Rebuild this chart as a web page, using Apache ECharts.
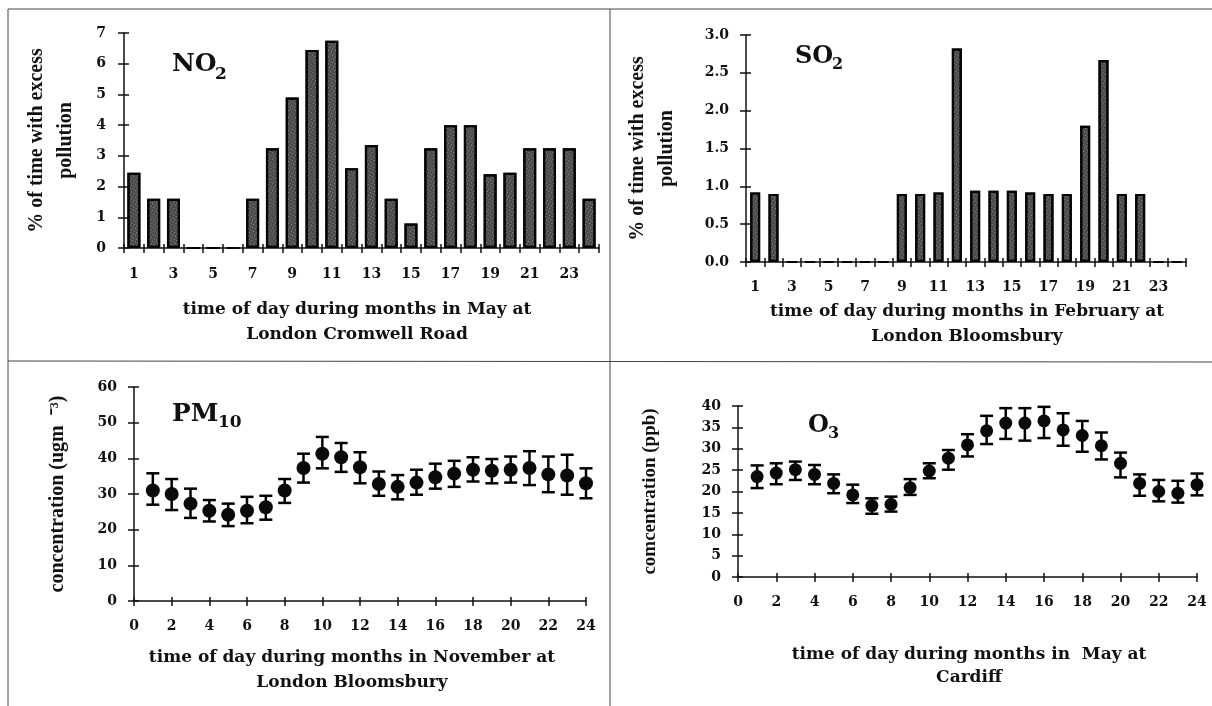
<!DOCTYPE html>
<html>
<head>
<meta charset="utf-8">
<script src="https://cdn.jsdelivr.net/npm/echarts@6/dist/echarts.min.js"></script>
<style>
html,body{margin:0;padding:0;background:#fff;}
#chart{width:1212px;height:706px;}
</style>
</head>
<body>
<div id="chart"></div>
<script>
// ---------- data ----------
const hourLabels = ['1','2','3','4','5','6','7','8','9','10','11','12','13','14','15','16','17','18','19','20','21','22','23','24'];
const hours = [1,2,3,4,5,6,7,8,9,10,11,12,13,14,15,16,17,18,19,20,21,22,23,24];

const no2Values = [2.45,1.6,1.6,0,0,0,1.6,3.25,4.9,6.45,6.75,2.6,3.35,1.6,0.8,3.25,4.0,4.0,2.4,2.45,3.25,3.25,3.25,1.6];
const so2Values = [0.92,0.9,0,0,0,0,0,0,0.9,0.9,0.92,2.82,0.94,0.94,0.94,0.92,0.9,0.9,1.8,2.67,0.9,0.9,0,0];

const pm10Mean = [31.0,30.0,27.3,25.3,24.2,25.3,26.3,31.0,37.3,41.3,40.3,37.5,32.8,32.0,33.2,34.7,35.7,36.8,36.5,36.8,37.3,35.5,35.2,33.0];
const pm10Low  = [27.0,25.5,23.3,22.3,21.0,21.8,22.8,27.5,33.2,37.2,36.2,33.0,29.5,28.5,29.8,31.5,32.0,33.5,33.0,33.2,32.5,30.5,29.8,28.8];
const pm10High = [35.8,34.2,31.5,28.3,27.3,29.2,29.5,34.2,41.3,46.0,44.3,41.7,36.3,35.3,36.8,38.5,39.3,40.3,39.8,40.5,42.0,40.5,41.0,37.2];

const o3Mean = [23.5,24.3,25.1,24.0,21.9,19.2,16.7,17.0,20.9,24.8,27.8,30.9,34.2,36.0,36.0,36.5,34.4,33.1,30.7,26.6,21.9,20.0,19.6,21.6];
const o3Low  = [20.8,21.7,22.7,21.7,19.6,17.3,14.8,15.3,19.2,23.1,25.1,28.2,31.1,32.3,31.9,32.5,30.7,29.3,27.5,23.3,19.0,17.7,17.4,19.1];
const o3High = [26.1,26.6,27.0,26.2,24.0,21.6,18.4,18.8,22.9,26.6,29.7,33.4,37.7,39.5,39.5,39.8,38.3,36.5,33.8,29.1,24.0,22.7,22.5,24.2];

const panelTitles = [
  ['time of day during months in May at', 'London Cromwell Road'],
  ['time of day during months in February at', 'London Bloomsbury'],
  ['time of day during months in November at', 'London Bloomsbury'],
  ['time of day during months in  May at', 'Cardiff']
];
const yNames = ['% of time with excess\npollution', '% of time with excess\npollution', 'concentration (ugm  \u207B\u00B3)', 'comcentration (ppb)'];

// ---------- styles ----------
const INK = '#111';
const tickFont = {fontFamily:'DejaVu Serif', fontWeight:'bold', fontSize:14, color:INK};
const nameFont = {fontFamily:'Liberation Serif', fontWeight:'bold', fontSize:20, lineHeight:29, color:INK};

function mainX(grid, cfg){
  return Object.assign({
    gridIndex:grid, position:'bottom',
    axisLine:{show:true, onZero:false, lineStyle:{color:INK, width:1.5}},
    axisTick:{show:true, inside:false, length:5, lineStyle:{color:INK, width:1.5}},
    axisLabel:Object.assign({margin:18}, tickFont),
    splitLine:{show:false}
  }, cfg);
}
function dupX(grid, cfg){
  return Object.assign({
    gridIndex:grid, position:'bottom',
    axisLine:{show:false, onZero:false},
    axisTick:{show:true, inside:true, length:4, lineStyle:{color:INK, width:1.5}},
    axisLabel:{show:false},
    splitLine:{show:false}
  }, cfg);
}
function mainY(grid, cfg){
  return Object.assign({
    gridIndex:grid, position:'left', type:'value',
    axisLine:{show:true, onZero:false, lineStyle:{color:INK, width:1.5}},
    axisTick:{show:true, inside:false, length:6, lineStyle:{color:INK, width:1.5}},
    axisLabel:Object.assign({margin:18}, tickFont),
    splitLine:{show:false},
    nameLocation:'middle', nameRotate:90, nameTextStyle:nameFont
  }, cfg);
}
function dupY(grid, cfg){
  return Object.assign({
    gridIndex:grid, position:'left', type:'value',
    axisLine:{show:false, onZero:false},
    axisTick:{show:true, inside:true, length:5, lineStyle:{color:INK, width:1.5}},
    axisLabel:{show:false},
    splitLine:{show:false}
  }, cfg);
}

const catTick = {show:true, inside:false, length:5, interval:0, alignWithLabel:false, lineStyle:{color:INK, width:1.5}};
const catTickIn = {show:true, inside:true, length:4, interval:0, alignWithLabel:false, lineStyle:{color:INK, width:1.5}};

const barStyle = {
  color:'#4a4a4a', borderColor:'#050505', borderWidth:2.2,
  decal:{symbol:'rect', symbolSize:1, color:'rgba(205,205,205,0.55)', dashArrayX:[1,2], dashArrayY:[1,2], rotation:0.5}
};

function errRender(params, api){
  const x = api.value(0), lo = api.value(1), hi = api.value(2);
  const p1 = api.coord([x, lo]), p2 = api.coord([x, hi]);
  const w = 6.5;
  const st = {stroke:'#000', lineWidth:2.5};
  return {type:'group', children:[
    {type:'line', shape:{x1:p1[0], y1:p1[1], x2:p2[0], y2:p2[1]}, style:st},
    {type:'line', shape:{x1:p1[0]-w, y1:p1[1], x2:p1[0]+w, y2:p1[1]}, style:st},
    {type:'line', shape:{x1:p2[0]-w, y1:p2[1], x2:p2[0]+w, y2:p2[1]}, style:st}
  ]};
}

const pm10Err = hours.map((h,i)=>[h, pm10Low[i], pm10High[i]]);
const pm10Pts = hours.map((h,i)=>[h, pm10Mean[i]]);
const o3Err = hours.map((h,i)=>[h, o3Low[i], o3High[i]]);
const o3Pts = hours.map((h,i)=>[h, o3Mean[i]]);

// ---------- annotation graphics ----------
const titleFont = 'bold 17px "DejaVu Serif"';
function titleText(x, y, t){
  return {type:'text', x:x, y:y, style:{text:t, font:titleFont, fill:INK, align:'center', verticalAlign:'middle'}};
}
function chem(x, y, main, sub, size, subSize, dx, dy){
  return [
    {type:'text', x:x, y:y, style:{text:main, font:'bold '+size+'px "DejaVu Serif"', fill:INK, align:'left', verticalAlign:'middle'}},
    {type:'text', x:x+dx, y:y+dy, style:{text:sub, font:'bold '+subSize+'px "DejaVu Serif"', fill:INK, align:'left', verticalAlign:'middle'}}
  ];
}
const border = {stroke:'#444', lineWidth:1};
const graphics = [
  {type:'line', shape:{x1:8, y1:9, x2:1212, y2:9}, style:border},
  {type:'line', shape:{x1:8, y1:9, x2:8, y2:706}, style:border},
  {type:'line', shape:{x1:610, y1:9, x2:610, y2:706}, style:border},
  {type:'line', shape:{x1:8, y1:361, x2:1212, y2:362}, style:border},
  titleText(357, 310, panelTitles[0][0]), titleText(357, 335, panelTitles[0][1]),
  titleText(967, 312, panelTitles[1][0]), titleText(967, 337, panelTitles[1][1]),
  titleText(352, 658, panelTitles[2][0]), titleText(352, 683, panelTitles[2][1]),
  titleText(969, 655, panelTitles[3][0]), titleText(969, 678, panelTitles[3][1])
].concat(
  chem(172, 64, 'NO', '2', 25, 17, 43, 11),
  chem(795, 57, 'SO', '2', 24, 16, 37, 8),
  chem(172, 414, 'PM', '10', 25, 17, 46, 9),
  chem(808, 426, 'O', '3', 24, 16, 20, 8)
);

const option = {
  animation:false,
  backgroundColor:'#fff',
  grid:[
    {left:124, top:33, width:475, height:215},
    {left:746, top:35, width:440, height:227},
    {left:134, top:387, width:452, height:214},
    {left:738, top:406, width:459, height:171}
  ],
  xAxis:[
    mainX(0, {type:'category', data:hourLabels, axisTick:catTick, axisLabel:Object.assign({margin:19, interval:1}, tickFont)}),
    dupX(0, {type:'category', data:hourLabels, axisTick:catTickIn}),
    mainX(1, {type:'category', data:hourLabels, axisTick:catTick, axisLabel:Object.assign({margin:18, interval:1}, tickFont)}),
    dupX(1, {type:'category', data:hourLabels, axisTick:catTickIn}),
    mainX(2, {type:'value', min:0, max:24, interval:2}),
    dupX(2, {type:'value', min:0, max:24, interval:2}),
    mainX(3, {type:'value', min:0, max:24, interval:2}),
    dupX(3, {type:'value', min:0, max:24, interval:2})
  ],
  yAxis:[
    mainY(0, {min:0, max:7, interval:1, name:yNames[0], nameGap:44}),
    dupY(0, {min:0, max:7, interval:1}),
    mainY(1, {min:0, max:3, interval:0.5, name:yNames[1], nameGap:65, axisLabel:Object.assign({margin:17, formatter:v=>v.toFixed(1)}, tickFont)}),
    dupY(1, {min:0, max:3, interval:0.5}),
    mainY(2, {min:0, max:60, interval:10, name:yNames[2], nameGap:62, axisLabel:Object.assign({margin:17}, tickFont)}),
    dupY(2, {min:0, max:60, interval:10}),
    mainY(3, {min:0, max:40, interval:5, name:yNames[3], nameGap:73, nameTextStyle:Object.assign({}, nameFont, {fontSize:19}), axisLabel:Object.assign({margin:17}, tickFont)}),
    dupY(3, {min:0, max:40, interval:5})
  ],
  series:[
    {type:'bar', xAxisIndex:0, yAxisIndex:0, data:no2Values, barWidth:13, itemStyle:barStyle},
    {type:'bar', xAxisIndex:2, yAxisIndex:2, data:so2Values, barWidth:10, itemStyle:barStyle},
    {type:'custom', xAxisIndex:4, yAxisIndex:4, renderItem:errRender, data:pm10Err, encode:{x:0, y:[1,2]}, z:2},
    {type:'scatter', xAxisIndex:4, yAxisIndex:4, data:pm10Pts, symbol:'circle', symbolSize:14, itemStyle:{color:'#0a0a0a', opacity:1}, z:3},
    {type:'custom', xAxisIndex:6, yAxisIndex:6, renderItem:errRender, data:o3Err, encode:{x:0, y:[1,2]}, z:2},
    {type:'scatter', xAxisIndex:6, yAxisIndex:6, data:o3Pts, symbol:'circle', symbolSize:13, itemStyle:{color:'#0a0a0a', opacity:1}, z:3}
  ],
  graphic:graphics
};

const chart = echarts.init(document.getElementById('chart'), null, {renderer:'canvas'});
chart.setOption(option);
</script>
</body>
</html>
